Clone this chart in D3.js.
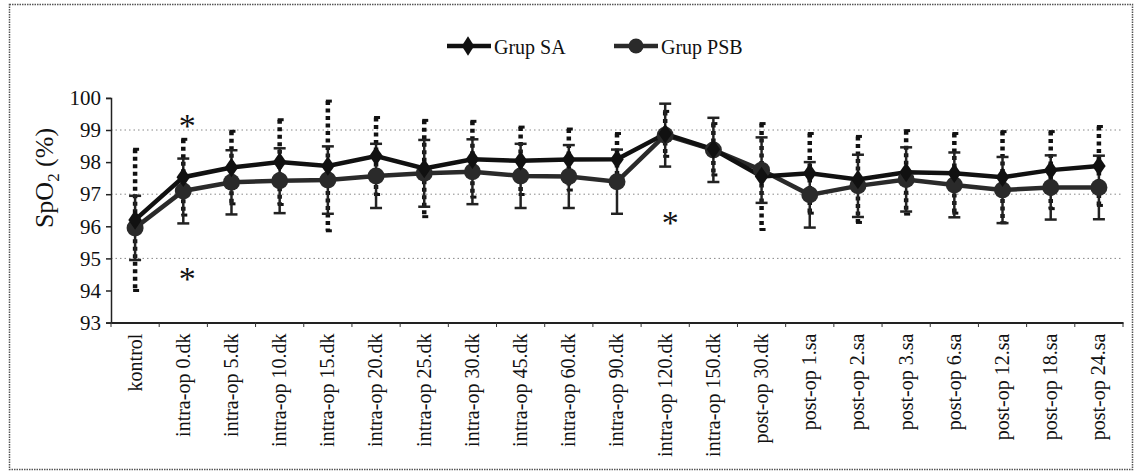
<!DOCTYPE html>
<html>
<head>
<meta charset="utf-8">
<script src="https://cdn.jsdelivr.net/npm/d3@7"></script>
<style>
  html, body { margin: 0; padding: 0; background: #fff; }
  svg { display: block; }
  text { font-family: "Liberation Serif", "Times New Roman", Tinos, serif; fill: #111; }
</style>
</head>
<body>
<svg id="chart" width="1141" height="473"></svg>
<script>
// Measurement points
const categories = [
  "kontrol", "intra-op 0.dk", "intra-op 5.dk", "intra-op 10.dk", "intra-op 15.dk",
  "intra-op 20.dk", "intra-op 25.dk", "intra-op 30.dk", "intra-op 45.dk", "intra-op 60.dk",
  "intra-op 90.dk", "intra-op 120.dk", "intra-op 150.dk", "post-op 30.dk", "post-op 1.sa",
  "post-op 2.sa", "post-op 3.sa", "post-op 6.sa", "post-op 12.sa", "post-op 18.sa", "post-op 24.sa"
];

// Grup SA: mean SpO2 and standard deviation
const saMean = [96.2, 97.53, 97.83, 98.0, 97.88, 98.19, 97.8, 98.09, 98.04, 98.08, 98.09,
                98.88, 98.4, 97.55, 97.65, 97.46, 97.68, 97.65, 97.53, 97.75, 97.88];
const saSD   = [2.2, 1.18, 1.13, 1.32, 2.02, 1.2, 1.5, 1.18, 1.05, 0.95, 0.8,
                0.7, 0.8, 1.65, 1.24, 1.34, 1.3, 1.24, 1.42, 1.2, 1.23];

// Grup PSB: mean SpO2 and standard deviation
const psbMean = [95.95, 97.1, 97.37, 97.42, 97.44, 97.57, 97.65, 97.7, 97.57, 97.55, 97.39,
                 98.84, 98.38, 97.75, 96.98, 97.26, 97.46, 97.29, 97.13, 97.21, 97.21];
const psbSD   = [1.0, 1.01, 1.0, 1.01, 1.05, 1.0, 1.04, 1.01, 1.0, 0.98, 1.0,
                 0.98, 1.0, 1.02, 1.02, 0.97, 1.0, 1.01, 1.03, 1.0, 0.99];

const yTicks = [93, 94, 95, 96, 97, 98, 99, 100];
const gridValues = [95, 97, 99];

// Significance markers: category and value position
const starCats = ["intra-op 0.dk", "intra-op 0.dk", "intra-op 120.dk"];
const starVals = [99.28, 94.51, 96.26];

const seriesNames = ["Grup SA", "Grup PSB"];

const SERIF = '"Liberation Serif", "Times New Roman", Tinos, serif';
const svg = d3.select("#chart");

// outer dotted frame
svg.append("rect")
  .attr("x", 9.5).attr("y", 4.5).attr("width", 1123).attr("height", 465)
  .attr("fill", "none").attr("stroke", "#555").attr("stroke-width", 1.5)
  .attr("stroke-dasharray", "1.5,1");

const x = d3.scaleBand().domain(categories).range([111, 1123]).padding(0);
const y = d3.scaleLinear().domain([93, 100]).range([322.6, 97.9]);
const cx = c => x(c) + x.bandwidth() / 2;

// horizontal gridlines
svg.append("g").selectAll("line").data(gridValues).join("line")
  .attr("x1", 111).attr("x2", 1123)
  .attr("y1", d => y(d)).attr("y2", d => y(d))
  .attr("stroke", "#888").attr("stroke-width", 1).attr("stroke-dasharray", "1.5,3");

// y axis
const yAxis = svg.append("g").attr("transform", "translate(111,0)")
  .call(d3.axisLeft(y).tickValues(yTicks).tickSize(5).tickPadding(5).tickFormat(d3.format("d")));
yAxis.attr("font-family", SERIF);
yAxis.select(".domain").attr("stroke", "#222").attr("stroke-width", 1.5);
yAxis.selectAll(".tick line").attr("stroke", "#222").attr("stroke-width", 1.5);
yAxis.selectAll(".tick text").attr("font-size", 21).style("font-family", SERIF).attr("fill", "#111");

// x axis with ticks on band boundaries
const xAxis = svg.append("g").attr("transform", "translate(0,322.6)")
  .call(d3.axisBottom(x).tickSize(0).tickPadding(0));
xAxis.attr("font-family", SERIF);
xAxis.select(".domain").attr("stroke", "#222").attr("stroke-width", 2);
xAxis.selectAll(".tick text")
  .attr("font-size", 20).style("font-family", SERIF).attr("fill", "#111")
  .attr("text-anchor", "end")
  .attr("transform", "translate(0,11) rotate(-90)")
  .attr("dx", 0).attr("dy", "0.32em").attr("y", 0);
svg.append("g").selectAll("line").data(categories.concat(["_end"])).join("line")
  .attr("x1", (d, i) => 111 + i * x.bandwidth())
  .attr("x2", (d, i) => 111 + i * x.bandwidth())
  .attr("y1", 322.6).attr("y2", 327)
  .attr("stroke", "#333").attr("stroke-width", 1);

// y axis title: SpO2 (%)
const yt = svg.append("text")
  .attr("transform", "translate(53,178) rotate(-90)")
  .attr("text-anchor", "middle").attr("font-size", 26).style("font-family", SERIF);
yt.append("tspan").text("SpO");
yt.append("tspan").attr("font-size", 17).attr("dy", 6).text("2");
yt.append("tspan").attr("dy", -6).text(" (%)");

// error bars: SA dotted, PSB solid with caps
const saBars = svg.append("g");
categories.forEach((c, i) => {
  const xc = cx(c);
  const top = y(saMean[i] + saSD[i]), bot = y(saMean[i] - saSD[i]);
  saBars.append("line")
    .attr("x1", xc).attr("x2", xc).attr("y1", top).attr("y2", bot)
    .attr("stroke", "#111").attr("stroke-width", 4.5).attr("stroke-dasharray", "4,3.5");
  [top, bot].forEach(v => saBars.append("line")
    .attr("x1", xc - 2).attr("x2", xc + 4).attr("y1", v).attr("y2", v)
    .attr("stroke", "#111").attr("stroke-width", 3));
});
const psbBars = svg.append("g");
categories.forEach((c, i) => {
  const xc = cx(c);
  const top = y(psbMean[i] + psbSD[i]), bot = y(psbMean[i] - psbSD[i]);
  psbBars.append("line")
    .attr("x1", xc).attr("x2", xc).attr("y1", top).attr("y2", bot)
    .attr("stroke", "#222").attr("stroke-width", 2.5);
  [top, bot].forEach(v => psbBars.append("line")
    .attr("x1", xc - 6).attr("x2", xc + 6).attr("y1", v).attr("y2", v)
    .attr("stroke", "#222").attr("stroke-width", 2.5));
});

// lines
const line = d3.line().x((d, i) => cx(categories[i])).y(d => y(d));
svg.append("path").datum(psbMean).attr("d", line)
  .attr("fill", "none").attr("stroke", "#2a2a2a").attr("stroke-width", 4.5);
svg.append("path").datum(saMean).attr("d", line)
  .attr("fill", "none").attr("stroke", "#111").attr("stroke-width", 4.5);

// markers
const diamond = d3.symbol().type(d3.symbolDiamond).size(110);
svg.append("g").selectAll("circle").data(psbMean).join("circle")
  .attr("cx", (d, i) => cx(categories[i])).attr("cy", d => y(d)).attr("r", 8.5)
  .attr("fill", "#2a2a2a");
svg.append("g").selectAll("path").data(saMean).join("path")
  .attr("d", diamond)
  .attr("transform", (d, i) => `translate(${cx(categories[i])},${y(d)}) scale(1.2,1)`)
  .attr("fill", "#111");

// significance asterisks
svg.append("g").selectAll("text").data(starVals).join("text")
  .attr("x", (d, i) => cx(starCats[i]) + (i === 2 ? 5 : 4)).attr("y", d => y(d))
  .attr("text-anchor", "middle").attr("dy", 16)
  .attr("font-size", 34).style("font-family", SERIF).text("*");

// legend
const legendX = [447, 614];
const legend = svg.append("g");
seriesNames.forEach((name, i) => {
  const lx = legendX[i], ly = 46;
  legend.append("line").attr("x1", lx).attr("x2", lx + 44).attr("y1", ly).attr("y2", ly)
    .attr("stroke", i === 0 ? "#111" : "#2a2a2a").attr("stroke-width", 4.5);
  if (i === 0) {
    legend.append("path").attr("d", diamond)
      .attr("transform", `translate(${lx + 21},${ly}) scale(1.1,1)`).attr("fill", "#111");
  } else {
    legend.append("circle").attr("cx", lx + 22).attr("cy", ly).attr("r", 7.5).attr("fill", "#2a2a2a");
  }
  legend.append("text").attr("x", lx + 47).attr("y", ly + 8).attr("font-size", 20)
    .style("font-family", SERIF).text(name);
});
</script>
</body>
</html>
